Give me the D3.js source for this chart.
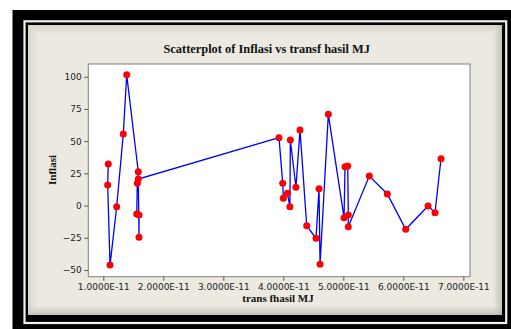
<!DOCTYPE html>
<html>
<head>
<meta charset="utf-8">
<script src="https://cdn.jsdelivr.net/npm/d3@7"></script>
<style>
  html, body { margin: 0; padding: 0; background: #fff; }
  svg { display: block; }
</style>
</head>
<body>
<script>
// trans fhasil MJ (x 1E-11) et Inflasi, dans l'ordre de la serie
const transHasil = [1.083, 1.073, 1.112, 1.223, 1.333, 1.39, 1.583, 1.567, 1.557, 1.595, 1.595, 1.583,
  3.928, 3.99, 4.0, 4.067, 4.11, 4.117, 4.21, 4.278, 4.39, 4.545, 4.595, 4.612, 4.75,
  5.012, 5.028, 5.073, 5.083, 5.083, 5.433, 5.733, 6.04, 6.412, 6.528, 6.628].map(v => v * 1e-11);
const inflasi = [32.3, 16.0, -46.2, -0.9, 55.5, 101.5, 26.3, 17.3, -6.5, -7.3, -24.6, 20.6,
  52.7, 17.3, 5.6, 9.5, -0.9, 50.9, 14.2, 58.6, -15.6, -25.4, 13.1, -45.6, 70.8,
  -9.4, 30.2, 30.7, -7.3, -16.4, 22.9, 9.0, -18.4, -0.3, -5.5, 36.4];
const xTicks = [1e-11, 2e-11, 3e-11, 4e-11, 5e-11, 6e-11, 7e-11];
const yTicks = [-50, -25, 0, 25, 50, 75, 100];

const W = 511, H = 329;
const plot = { left: 88.3, top: 64, right: 470, bottom: 276.7 };

const svg = d3.select("body").append("svg")
    .attr("width", W)
    .attr("height", H);

////////Cadre noir + filet blanc + panneau beige
svg.append("rect").attr("x", 12.5).attr("y", 10).attr("width", W - 12.5).attr("height", H - 10).attr("fill", "#000");
svg.append("rect").attr("x", 24.5).attr("y", 21.3).attr("width", 481.7).attr("height", 301.7)
    .attr("fill", "none").attr("stroke", "#f2f2f2").attr("stroke-width", 2.2);
svg.append("rect").attr("x", 28).attr("y", 25).attr("width", 474).attr("height", 290).attr("fill", "#ece9e0");
// ombre interieure
for (let i = 0; i < 10; i++) {
    svg.append("rect")
        .attr("x", 28 + i + 0.5).attr("y", 25 + i + 0.5)
        .attr("width", 474 - 2 * i - 1).attr("height", 290 - 2 * i - 1)
        .attr("fill", "none")
        .attr("stroke", "#000")
        .attr("stroke-opacity", 0.08 * (1 - i / 10));
}
// plus sombre en bas et a droite
for (let i = 0; i < 8; i++) {
    const a = 0.07 * (1 - i / 8);
    svg.append("rect").attr("x", 501 - i).attr("y", 25).attr("width", 1).attr("height", 290)
        .attr("fill", "#000").attr("fill-opacity", a);
    svg.append("rect").attr("x", 28).attr("y", 314 - i).attr("width", 474).attr("height", 1)
        .attr("fill", "#000").attr("fill-opacity", a);
}

////////Zone du graphique
svg.append("rect")
    .attr("x", plot.left).attr("y", plot.top)
    .attr("width", plot.right - plot.left).attr("height", plot.bottom - plot.top)
    .attr("fill", "#fff").attr("stroke", "#808080").attr("stroke-width", 1);

const x = d3.scaleLinear().domain([0.75e-11, 7.111e-11]).range([plot.left, plot.right]);
const y = d3.scaleLinear().domain([-55.2, 109.9]).range([plot.bottom, plot.top]);

const gx = svg.append("g")
    .attr("transform", "translate(0," + plot.bottom + ")")
    .call(d3.axisBottom(x).tickValues(xTicks).tickSize(4).tickPadding(3)
        .tickFormat(d => (d / 1e-11).toFixed(4) + "E-11"));
const gy = svg.append("g")
    .attr("transform", "translate(" + plot.left + ",0)")
    .call(d3.axisLeft(y).tickValues(yTicks).tickSize(4).tickPadding(2.5));

[gx, gy].forEach(g => {
    g.select(".domain").remove();
    g.selectAll("line").attr("stroke", "#555");
    g.selectAll("text")
        .attr("fill", "#222")
        .style("font-family", "'DejaVu Sans', sans-serif")
        .style("font-size", "9px");
});

////////Ligne et points
const pts = transHasil.map((v, i) => ({ x: v, y: inflasi[i] }));

svg.append("path")
    .datum(pts)
    .attr("fill", "none")
    .attr("stroke", "#0000ff")
    .attr("stroke-width", 1.3)
    .attr("d", d3.line().x(d => x(d.x)).y(d => y(d.y)));

svg.selectAll("circle.pt")
    .data(pts)
    .enter()
    .append("circle")
    .attr("class", "pt")
    .attr("cx", d => x(d.x))
    .attr("cy", d => y(d.y))
    .attr("r", 3.5)
    .attr("fill", "#ff0000");

////////Titres
const serif = "'Liberation Serif', 'Times New Roman', serif";
svg.append("text")
    .attr("x", 266.7).attr("y", 53.3)
    .attr("text-anchor", "middle")
    .style("font-family", serif).style("font-weight", "bold").style("font-size", "12.4px")
    .attr("fill", "#111")
    .text("Scatterplot of Inflasi vs transf hasil MJ");

svg.append("text")
    .attr("x", 278).attr("y", 301.5)
    .attr("text-anchor", "middle")
    .style("font-family", serif).style("font-weight", "bold").style("font-size", "11px")
    .attr("fill", "#111")
    .text("trans fhasil MJ");

svg.append("text")
    .attr("transform", "translate(55.5,170) rotate(-90)")
    .attr("text-anchor", "middle")
    .style("font-family", serif).style("font-weight", "bold").style("font-size", "11px")
    .attr("fill", "#111")
    .text("Inflasi");
</script>
</body>
</html>
